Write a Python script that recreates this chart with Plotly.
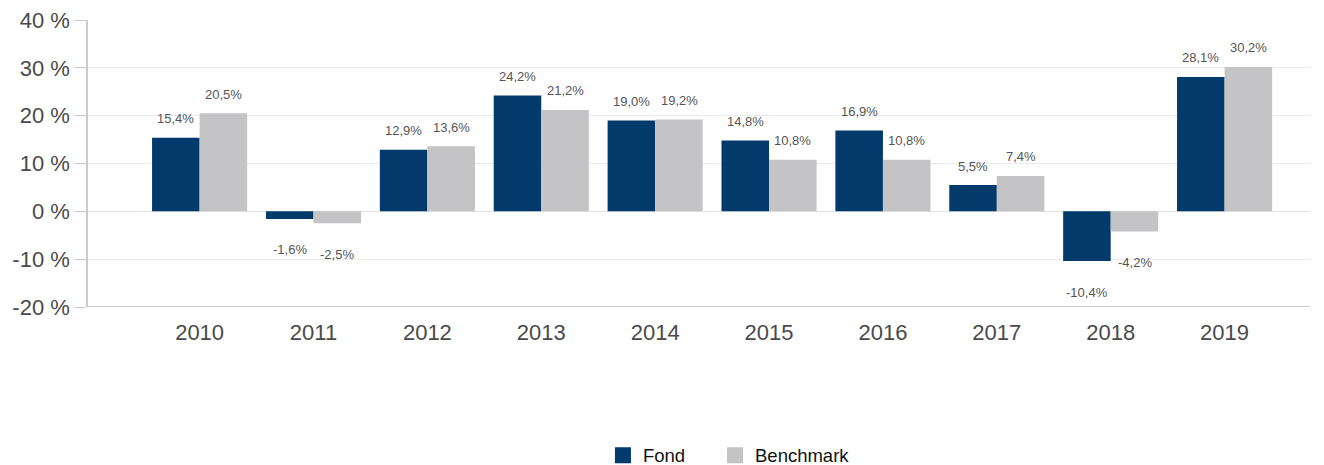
import plotly.graph_objects as go

years = ["2010", "2011", "2012", "2013", "2014", "2015", "2016", "2017", "2018", "2019"]
fond = [15.4, -1.6, 12.9, 24.2, 19.0, 14.8, 16.9, 5.5, -10.4, 28.1]
benchmark = [20.5, -2.5, 13.6, 21.2, 19.2, 10.8, 10.8, 7.4, -4.2, 30.2]
y_ticks = [-20, -10, 0, 10, 20, 30, 40]
y_tick_labels = ["-20 %", "-10 %", "0 %", "10 %", "20 %", "30 %", "40 %"]

FOND_COLOR = "#023a6b"
BENCH_COLOR = "#c4c4c6"
FONT = "Liberation Sans, Arial, sans-serif"

fig = go.Figure()
fig.add_trace(go.Bar(name="Fond", x=years, y=fond, marker_color=FOND_COLOR,
                     marker_line_width=0, hoverinfo="skip", showlegend=False))
fig.add_trace(go.Bar(name="Benchmark", x=years, y=benchmark, marker_color=BENCH_COLOR,
                     marker_line_width=0, hoverinfo="skip", showlegend=False))
# legend entries with larger square swatches, one legend each for exact placement
for name, col, lg in (("Fond", FOND_COLOR, "legend"), ("Benchmark", BENCH_COLOR, "legend2")):
    fig.add_trace(go.Scatter(name=name, x=[None], y=[None], mode="markers",
                             marker=dict(symbol="square", size=16, color=col),
                             showlegend=True, hoverinfo="skip", legend=lg))

def fmt(v):
    return f"{v:.1f}%".replace(".", ",")

annotations = []
for series, offset in ((fond, -0.21), (benchmark, 0.21)):
    for i, v in enumerate(series):
        annotations.append(dict(
            x=i + offset, y=v, xref="x", yref="y", text=fmt(v), showarrow=False,
            yshift=19 if v >= 0 else -31,
            font=dict(family=FONT, size=13, color="#555555"),
        ))

legend_font = dict(family=FONT, size=18.5, color="#111111")
fig.update_layout(
    width=1324, height=465,
    margin=dict(l=80, r=22, t=12, b=166, autoexpand=False),
    paper_bgcolor="white", plot_bgcolor="white",
    barmode="group", bargap=0.165, bargroupgap=0.0,
    font=dict(family=FONT, color="#444444"),
    annotations=annotations,
    showlegend=True,
    legend=dict(orientation="h", x=0.4214, xanchor="left", y=-0.518, yanchor="middle",
                font=legend_font, itemwidth=30, bgcolor="rgba(0,0,0,0)"),
    legend2=dict(orientation="h", x=0.5131, xanchor="left", y=-0.518, yanchor="middle",
                 font=legend_font, itemwidth=30, bgcolor="rgba(0,0,0,0)"),
)
fig.update_xaxes(
    type="category", range=[-0.98, 9.75],
    showgrid=False, showline=False, ticks="", ticklabelstandoff=10,
    tickfont=dict(family=FONT, size=22, color="#4a4a4a"),
)
fig.update_yaxes(
    range=[-20, 40], tickvals=y_ticks, ticktext=y_tick_labels,
    showgrid=True, gridcolor="#ebebeb", gridwidth=1,
    zeroline=True, zerolinecolor="#e3e3e3", zerolinewidth=1,
    showline=True, linecolor="#cccccc", linewidth=1.5,
    ticks="outside", ticklen=12, tickcolor="#cccccc",
    tickfont=dict(family=FONT, size=22, color="#4a4a4a"),
    ticklabeloverflow="allow",
    mirror=False,
)
fig.add_shape(type="line", xref="paper", yref="y", x0=0, x1=1, y0=-20, y1=-20,
              line=dict(color="#cccccc", width=2), layer="above")

fig.write_html("out.html")
